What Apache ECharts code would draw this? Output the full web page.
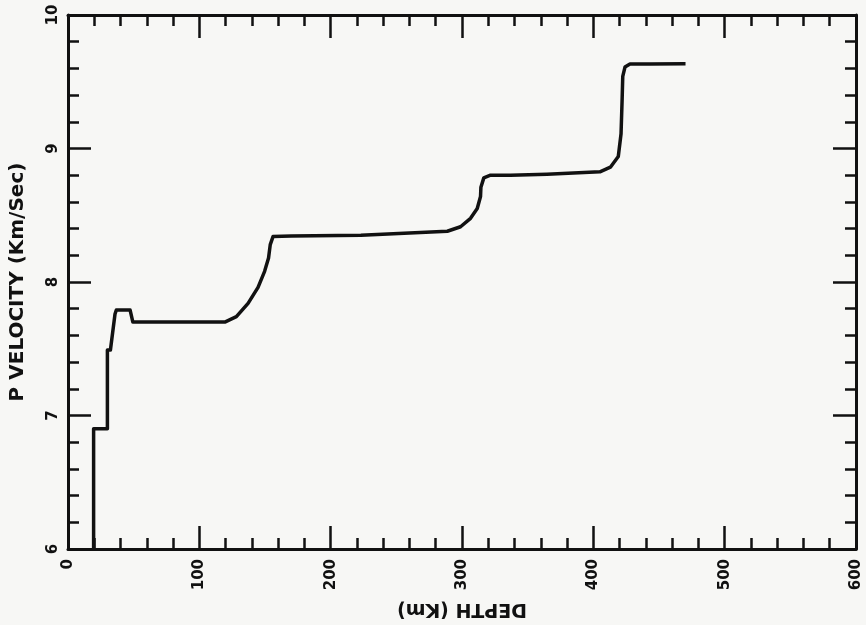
<!DOCTYPE html>
<html>
<head>
<meta charset="utf-8">
<script src="https://cdn.jsdelivr.net/npm/echarts@6/dist/echarts.min.js"></script>
<style>
html,body{margin:0;padding:0;background:#f7f7f5;}
#chart{width:866px;height:625px;}
</style>
</head>
<body>
<div id="chart"></div>
<script>
// Depth (km) and P velocity (km/s)
var depth = [19.5, 19.5, 30, 30, 32.3, 35.8, 36.8, 47.3, 49.4, 119.4, 128.2, 137.1, 144.7, 149.7, 152.7, 154.0, 156.1, 170, 223, 288.8, 298.9, 306.5, 311.6, 314.1, 314.4, 316.6, 321.7, 336.9, 364.7, 405, 413, 419, 421.1, 421.9, 422.4, 424.1, 427.9, 443, 470.2];
var velocity = [6.0, 6.9, 6.9, 7.49, 7.49, 7.76, 7.79, 7.79, 7.70, 7.70, 7.74, 7.84, 7.96, 8.08, 8.18, 8.28, 8.34, 8.345, 8.35, 8.38, 8.414, 8.477, 8.55, 8.64, 8.71, 8.78, 8.80, 8.80, 8.807, 8.825, 8.86, 8.94, 9.11, 9.36, 9.54, 9.61, 9.633, 9.633, 9.635];
var xTicks = {min: 0, max: 600, interval: 100};
var yTicks = {min: 6, max: 10, interval: 1};
var xTitle = 'DEPTH (Km)';
var yTitle = 'P VELOCITY (Km/Sec)';

var points = depth.map(function (d, i) { return [d, velocity[i]]; });
var ink = '#111';
var font = 'DejaVu Sans';

function xAxisCfg(pos, showLabels) {
  return {
    type: 'value', position: pos,
    min: xTicks.min, max: xTicks.max, interval: xTicks.interval,
    axisLine: {show: true, onZero: false, lineStyle: {color: ink, width: 3}},
    axisTick: {show: true, inside: true, length: 23, lineStyle: {color: ink, width: 2.5}},
    minorTick: {show: true, splitNumber: 5, length: 11, lineStyle: {color: ink, width: 2.5}},
    splitLine: {show: false},
    axisLabel: {show: showLabels, rotate: 90, margin: 10, color: ink, fontFamily: font, fontWeight: 'bold', fontSize: 15},
    name: showLabels ? xTitle : '',
    nameLocation: 'middle', nameGap: 50, nameRotate: 180,
    nameTextStyle: {color: ink, fontFamily: font, fontWeight: 'bold', fontSize: 19}
  };
}
function yAxisCfg(pos, showLabels) {
  return {
    type: 'value', position: pos,
    min: yTicks.min, max: yTicks.max, interval: yTicks.interval,
    axisLine: {show: true, onZero: false, lineStyle: {color: ink, width: 3}},
    axisTick: {show: true, inside: true, length: 23, lineStyle: {color: ink, width: 2.5}},
    minorTick: {show: true, splitNumber: 5, length: 11, lineStyle: {color: ink, width: 2.5}},
    splitLine: {show: false},
    axisLabel: {show: showLabels, rotate: 90, margin: 7, color: ink, fontFamily: font, fontWeight: 'bold', fontSize: 15},
    name: showLabels ? yTitle : '',
    nameLocation: 'middle', nameGap: 40, nameRotate: 90,
    nameTextStyle: {color: ink, fontFamily: font, fontWeight: 'bold', fontSize: 20}
  };
}

var chart = echarts.init(document.getElementById('chart'));
chart.setOption({
  backgroundColor: '#f7f7f5',
  animation: false,
  grid: {left: 66, right: 10, top: 15, bottom: 76},
  xAxis: [xAxisCfg('bottom', true), xAxisCfg('top', false)],
  yAxis: [yAxisCfg('left', true), yAxisCfg('right', false)],
  series: [{
    type: 'line',
    xAxisIndex: 0, yAxisIndex: 0,
    data: points,
    showSymbol: false,
    lineStyle: {color: ink, width: 3.5, join: 'round'}
  }]
});
</script>
</body>
</html>
